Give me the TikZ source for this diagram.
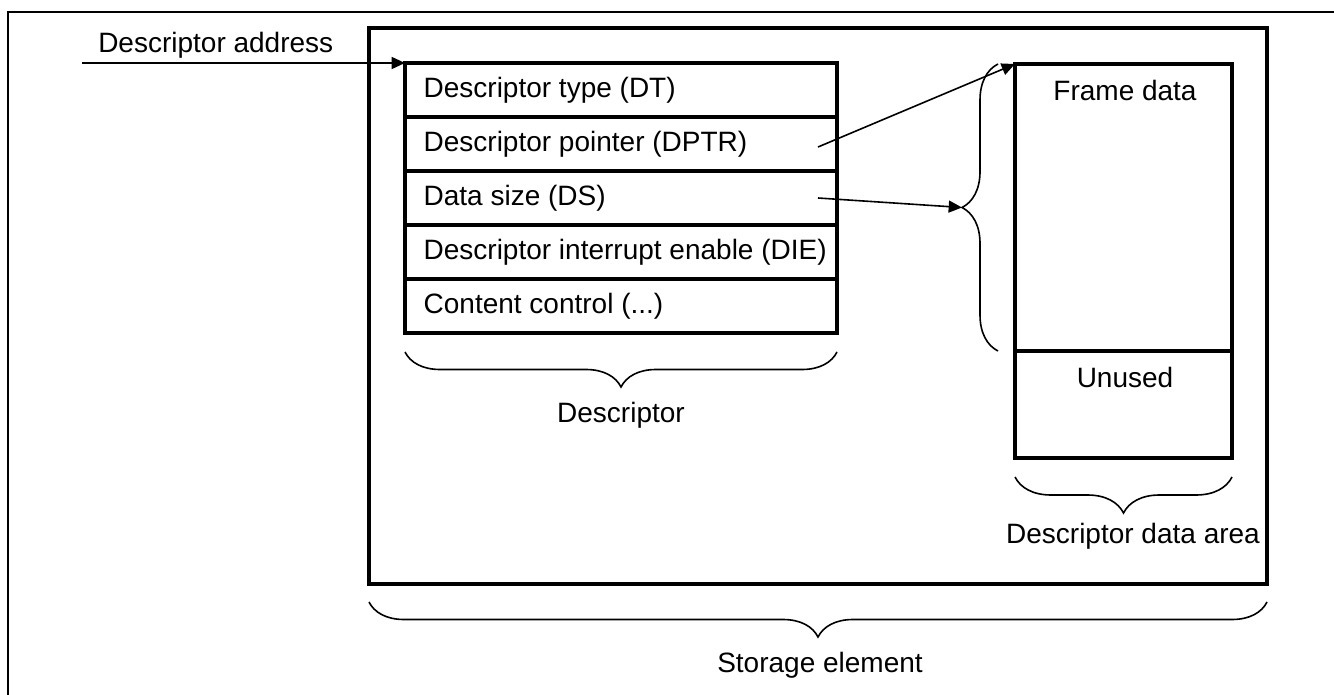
\documentclass[tikz,border=0pt]{standalone}
\usepackage{fontspec}
\setmainfont{Liberation Sans}
\usetikzlibrary{arrows.meta,decorations.pathreplacing}
\newcommand\rtx[1]{\makebox[296pt][l]{#1}}
\begin{document}
\begin{tikzpicture}[x=0.75pt,y=-0.75pt,
  font=\fontsize{21}{25}\selectfont,
  heavy/.style={draw, line width=2.6pt, outer sep=0pt},
  rowbox/.style={heavy, inner xsep=14pt,
    minimum width=324pt, minimum height=40.5pt, anchor=north west},
  areabox/.style={heavy, inner sep=0pt,
    minimum width=162.75pt, anchor=north west},
  lbl/.style={inner sep=0pt, anchor=base},
  curly/.style={decorate, decoration={brace, amplitude=#1}, line width=1.2pt},
  ptr/.style={-{Triangle[length=10pt,width=9pt]}, line width=1.2pt}]
\useasboundingbox (0,0) rectangle (1334,695);
% outer frame (only left and top edges visible)
\draw[line width=1.8pt] (8,700) -- (8,12) -- (1340,12);
% storage element
\node[heavy, inner sep=0pt, anchor=north west,
  minimum width=673.5pt, minimum height=417pt] (storage) at (369,28) {};
% descriptor rows
\node[rowbox] (dt)   at (405,63)  {\rtx{Descriptor type (DT)}};
\node[rowbox] (dptr) at (405,117) {\rtx{Descriptor pointer (DPTR)}};
\node[rowbox] (ds)   at (405,171) {\rtx{Data size (DS)}};
\node[rowbox] (die)  at (405,225) {\rtx{Descriptor interrupt enable (DIE)}};
\node[rowbox] (cc)   at (405,279) {\rtx{Content control (...)}};
% descriptor data area
\node[areabox, minimum height=215.25pt] (frame) at (1015,64) {};
\node[areabox, minimum height=80.25pt] (unused) at (1015,351) {};
\node[lbl] (frametext) at (1125,101) {Frame data};
\node[lbl] (unusedtext) at (1125,387) {Unused};
% labels
\node[lbl, anchor=base west] (addr) at (98,53) {Descriptor address};
\node[lbl] (desclbl) at (621,422) {Descriptor};
\node[lbl] (arealbl) at (1133,543) {Descriptor data area};
\node[lbl] (storlbl) at (820,672) {Storage element};
% braces
\draw[curly=26.25pt] (cc.south east |- 0,352) -- (cc.south west |- 0,352);
\draw[curly=27pt] (unused.south east |- 0,477) -- (unused.south west |- 0,477);
\draw[curly=26.25pt] (storage.south east |- 0,602) -- (storage.south west |- 0,602);
\draw[curly=27pt] (998,351) -- (998,64);
\coordinate (btip) at (962,207.5);
% connectors
\coordinate (addrstart) at (82,63);
\coordinate (dptrstart) at (818,147);
\coordinate (dsstart) at (818,198);
\draw[ptr] (addrstart) -- (dt.north west);
\draw[ptr] (dptrstart) -- (frame.north west);
\draw[ptr] (dsstart) -- (btip);
\end{tikzpicture}
\end{document}
